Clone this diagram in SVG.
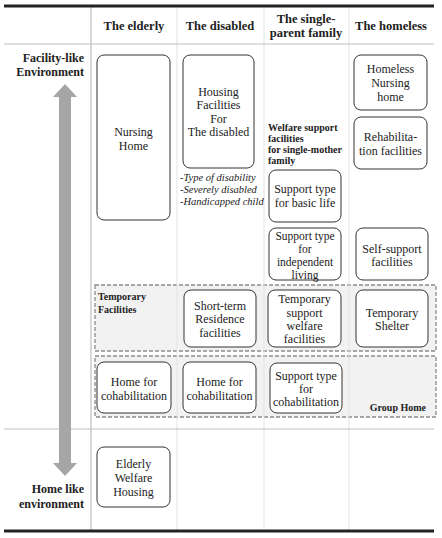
<svg xmlns="http://www.w3.org/2000/svg" width="442" height="538" viewBox="0 0 442 538">
<style>
text{font-family:"Liberation Serif","Times New Roman",serif;fill:#222;}
.h{font-size:12.5px;font-weight:bold;text-anchor:middle;}
.side{font-size:12px;font-weight:bold;text-anchor:end;}
.t{font-size:12px;text-anchor:middle;}
.ts{font-size:11.5px;text-anchor:middle;}
.it{font-size:10.5px;font-style:italic;}
.sb{font-size:10px;font-weight:bold;}
.box{fill:#fff;stroke:#333;stroke-width:1;}
.zone{fill:#f2f2f2;stroke:#8c8c8c;stroke-width:1.3;stroke-dasharray:4 2;}
.grid{stroke:#bfbfbf;stroke-width:1.2;}
.col{stroke:#e3e3e3;stroke-width:1;}
</style>
<rect x="0" y="0" width="442" height="538" fill="#fff"/>
<g id="zones">
<rect class="zone" x="95" y="285" width="341" height="66"/>
<rect class="zone" x="95" y="356" width="341" height="61"/>
</g>
<g id="table">
<line class="col" x1="177" y1="6" x2="177" y2="531"/>
<line class="col" x1="264" y1="6" x2="264" y2="531"/>
<line class="col" x1="349" y1="6" x2="349" y2="531"/>
<line class="grid" x1="91" y1="6" x2="91" y2="531" stroke-width="2"/>
<line class="grid" x1="4" y1="44" x2="434" y2="44"/>
<line class="grid" x1="4" y1="429" x2="434" y2="429"/>
<line x1="4" y1="6" x2="434" y2="6" stroke="#222" stroke-width="3"/>
<line x1="4" y1="531" x2="434" y2="531" stroke="#222" stroke-width="3"/>
</g>
<g id="headers">
<text class="h" x="134" y="30">The elderly</text>
<text class="h" x="220" y="30">The disabled</text>
<text class="h" x="306" y="23">The single-</text>
<text class="h" x="306" y="37">parent family</text>
<text class="h" x="391" y="30">The homeless</text>
</g>
<g id="side-labels">
<text class="side" x="84" y="62">Facility-like</text>
<text class="side" x="84" y="76">Environment</text>
<text class="side" x="84" y="493">Home like</text>
<text class="side" x="84" y="508">environment</text>
</g>
<g id="connectors">
<polygon points="65,84 77,97 71,97 71,463 77,463 65,476 53,463 59,463 59,97 53,97" fill="#a6a6a6"/>
</g>
<g id="nursing-home">
<rect class="box" x="97" y="55" width="73" height="165" rx="7"/>
<text class="t" x="133.5" y="136">Nursing</text>
<text class="t" x="133.5" y="150">Home</text>
</g>
<g id="housing-disabled">
<rect class="box" x="183" y="55" width="71" height="113" rx="7"/>
<text class="t" x="218.5" y="96">Housing</text>
<text class="t" x="218.5" y="109">Facilities</text>
<text class="t" x="218.5" y="123">For</text>
<text class="t" x="218.5" y="136">The disabled</text>
</g>
<g id="disabled-notes">
<text class="it" x="180" y="181">-Type of disability</text>
<text class="it" x="180" y="193">-Severely disabled</text>
<text class="it" x="180" y="205">-Handicapped child</text>
</g>
<g id="welfare-label">
<text class="sb" x="268" y="131">Welfare support</text>
<text class="sb" x="268" y="142">facilities</text>
<text class="sb" x="268" y="153">for single-mother</text>
<text class="sb" x="268" y="164">family</text>
</g>
<g id="basic-life">
<rect class="box" x="269" y="170" width="72" height="52" rx="7"/>
<text class="t" x="305" y="193">Support type</text>
<text class="t" x="305" y="207">for basic life</text>
</g>
<g id="independent-living">
<rect class="box" x="269" y="228" width="72" height="52" rx="7"/>
<text class="ts" x="305" y="240">Support type</text>
<text class="ts" x="305" y="253">for</text>
<text class="ts" x="305" y="266">independent</text>
<text class="ts" x="305" y="279">living</text>
</g>
<g id="homeless-nursing">
<rect class="box" x="354" y="55" width="73" height="55" rx="7"/>
<text class="t" x="390.5" y="73">Homeless</text>
<text class="t" x="390.5" y="87">Nursing</text>
<text class="t" x="390.5" y="101">home</text>
</g>
<g id="rehabilitation">
<rect class="box" x="354" y="117" width="73" height="52" rx="7"/>
<text class="t" x="390.5" y="141">Rehabilita-</text>
<text class="t" x="390.5" y="155">tion facilities</text>
</g>
<g id="self-support">
<rect class="box" x="356" y="228" width="72" height="52" rx="7"/>
<text class="t" x="392" y="253">Self-support</text>
<text class="t" x="392" y="266">facilities</text>
</g>
<g id="temporary-label">
<text class="sb" x="98" y="300" font-size="10.5">Temporary</text>
<text class="sb" x="98" y="313" font-size="10.5">Facilities</text>
</g>
<g id="short-term">
<rect class="box" x="184" y="290" width="72" height="57" rx="7"/>
<text class="t" x="220" y="310">Short-term</text>
<text class="t" x="220" y="323">Residence</text>
<text class="t" x="220" y="337">facilities</text>
</g>
<g id="temporary-support">
<rect class="box" x="268" y="290" width="73" height="57" rx="7"/>
<text class="t" x="304.5" y="303">Temporary</text>
<text class="t" x="304.5" y="317">support</text>
<text class="t" x="304.5" y="330">welfare</text>
<text class="t" x="304.5" y="343">facilities</text>
</g>
<g id="temporary-shelter">
<rect class="box" x="356" y="290" width="72" height="57" rx="7"/>
<text class="t" x="392" y="317">Temporary</text>
<text class="t" x="392" y="330">Shelter</text>
</g>
<g id="cohab-elderly">
<rect class="box" x="97" y="362" width="74" height="51" rx="7"/>
<text class="t" x="134" y="386">Home for</text>
<text class="t" x="134" y="400">cohabilitation</text>
</g>
<g id="cohab-disabled">
<rect class="box" x="183" y="362" width="73" height="51" rx="7"/>
<text class="t" x="219.5" y="386">Home for</text>
<text class="t" x="219.5" y="400">cohabilitation</text>
</g>
<g id="cohab-single">
<rect class="box" x="270" y="363" width="72" height="50" rx="7"/>
<text class="t" x="306" y="380">Support type</text>
<text class="t" x="306" y="393">for</text>
<text class="t" x="306" y="406">cohabilitation</text>
</g>
<g id="group-home-label">
<text class="sb" x="426" y="411" text-anchor="end">Group Home</text>
</g>
<g id="elderly-welfare-housing">
<rect class="box" x="97" y="447" width="73" height="60" rx="7"/>
<text class="t" x="133.5" y="468">Elderly</text>
<text class="t" x="133.5" y="482">Welfare</text>
<text class="t" x="133.5" y="496">Housing</text>
</g>
</svg>
